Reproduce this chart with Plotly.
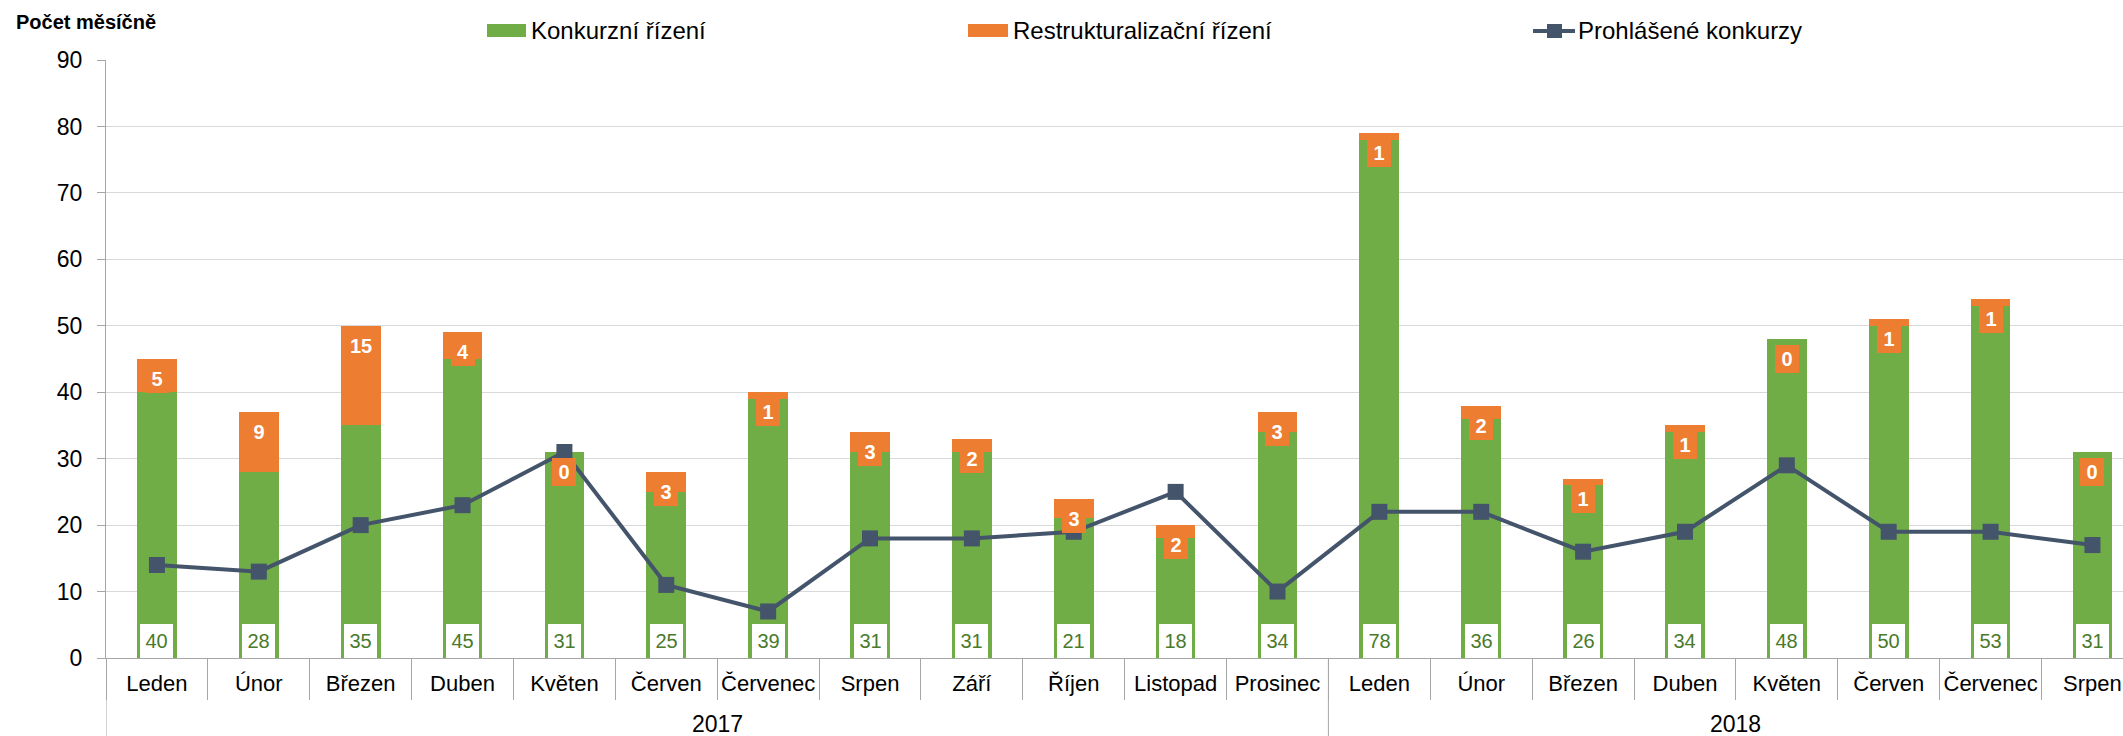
import plotly.graph_objects as go

# ---- data ----
years = ["2017"] * 12 + ["2018"] * 8
months = ["Leden", "Únor", "Březen", "Duben", "Květen", "Červen", "Červenec", "Srpen",
          "Září", "Říjen", "Listopad", "Prosinec",
          "Leden", "Únor", "Březen", "Duben", "Květen", "Červen", "Červenec", "Srpen"]
konkurzni = [40, 28, 35, 45, 31, 25, 39, 31, 31, 21, 18, 34,
             78, 36, 26, 34, 48, 50, 53, 31]
restrukturalizacni = [5, 9, 15, 4, 0, 3, 1, 3, 2, 3, 2, 3,
                      1, 2, 1, 1, 0, 1, 1, 0]
prohlasene = [14, 13, 20, 23, 31, 11, 7, 18, 18, 19, 25, 10,
              22, 22, 16, 19, 29, 19, 19, 17]

series_names = ["Konkurzní řízení", "Restrukturalizační řízení", "Prohlášené konkurzy"]
y_title = "Počet měsíčně"

GREEN = "#70ad47"
ORANGE = "#ed7d31"
LINE = "#44546a"
AXIS = "#a6a6a6"
FONT = "Liberation Sans, Arial, sans-serif"

W, H = 2123, 736
L, R, T, B = 106, 0, 60, 78
PW, PH = W - L - R, H - T - B


def fx(px):
    return (px - L) / PW


def fy(py):
    return (H - B - py) / PH


# unique category keys (month + year), displayed as month names only
xkeys = [f"{m} {y}" for m, y in zip(months, years)]

fig = go.Figure()
fig.add_trace(go.Bar(x=xkeys, y=konkurzni, name=series_names[0], marker_color=GREEN,
                     marker_line_width=0, width=0.39, showlegend=False))
fig.add_trace(go.Bar(x=xkeys, y=restrukturalizacni, name=series_names[1], marker_color=ORANGE,
                     marker_line_width=0, width=0.39, showlegend=False))
fig.add_trace(go.Scatter(x=xkeys, y=prohlasene, name=series_names[2], mode="lines+markers",
                         line=dict(color=LINE, width=4),
                         marker=dict(symbol="square", size=16, color=LINE),
                         showlegend=False))

annotations = []
shapes = []
for i, (g, o) in enumerate(zip(konkurzni, restrukturalizacni)):
    annotations.append(dict(x=i, y=0, xref="x", yref="y", text=str(g), showarrow=False,
                            xanchor="center", yanchor="bottom", width=33, height=34,
                            bgcolor="white", borderpad=0, borderwidth=0, valign="middle",
                            font=dict(family=FONT, size=20, color="#4a7a2a")))
    annotations.append(dict(x=i, y=g + o, xref="x", yref="y", text="<b>%d</b>" % o,
                            showarrow=False, xanchor="center", yanchor="top", yshift=-6,
                            width=24, height=28, bgcolor=ORANGE, borderpad=0, borderwidth=0,
                            valign="middle", font=dict(family=FONT, size=20, color="white")))

# year group labels and dividers
for yr in sorted(set(years)):
    idx = [i for i, y in enumerate(years) if y == yr]
    annotations.append(dict(x=(idx[0] + idx[-1]) / 2, y=fy(724), xref="x", yref="paper",
                            text=yr, showarrow=False, xanchor="center", yanchor="middle",
                            font=dict(family=FONT, size=23, color="black")))
    shapes.append(dict(type="line", xref="x", yref="paper", x0=idx[0] - 0.5, x1=idx[0] - 0.5,
                       y0=0, y1=fy(740), line=dict(color=AXIS, width=1)))

# y-axis title
annotations.append(dict(x=fx(14), y=fy(22), xref="paper", yref="paper", text="<b>%s</b>" % y_title,
                        showarrow=False, xanchor="left", yanchor="middle",
                        font=dict(family=FONT, size=20, color="black")))

# custom legend
leg = [(487, 526, GREEN, 529, series_names[0]), (968, 1008, ORANGE, 1011, series_names[1])]
for x0, x1, col, tx, name in leg:
    shapes.append(dict(type="rect", xref="paper", yref="paper", x0=fx(x0), x1=fx(x1),
                       y0=fy(37), y1=fy(24), fillcolor=col, line_width=0))
    annotations.append(dict(x=fx(tx), y=fy(31), xref="paper", yref="paper", text=name,
                            showarrow=False, xanchor="left", yanchor="middle",
                            font=dict(family=FONT, size=24, color="black")))
shapes.append(dict(type="line", xref="paper", yref="paper", x0=fx(1533), x1=fx(1575),
                   y0=fy(31), y1=fy(31), line=dict(color=LINE, width=4)))
shapes.append(dict(type="rect", xref="paper", yref="paper", x0=fx(1547), x1=fx(1562),
                   y0=fy(38), y1=fy(24), fillcolor=LINE, line_width=0))
annotations.append(dict(x=fx(1576), y=fy(31), xref="paper", yref="paper", text=series_names[2],
                        showarrow=False, xanchor="left", yanchor="middle",
                        font=dict(family=FONT, size=24, color="black")))

fig.update_layout(
    width=W, height=H, autosize=False,
    margin=dict(l=L, r=R, t=T, b=B, pad=0, autoexpand=False),
    barmode="stack", bargap=0.6,
    plot_bgcolor="white", paper_bgcolor="white",
    font=dict(family=FONT, size=23, color="black"),
    annotations=annotations, shapes=shapes,
    showlegend=False,
)
fig.update_xaxes(type="category", categoryorder="array", categoryarray=xkeys,
                 tickvals=xkeys, ticktext=months,
                 range=[-0.5, 19.3], automargin=False, tickangle=0,
                 showline=True, linecolor=AXIS, linewidth=1,
                 ticks="outside", tickson="boundaries", ticklen=41, tickcolor=AXIS,
                 ticklabelstandoff=6,
                 tickfont=dict(family=FONT, size=22, color="black"), showgrid=False)
fig.update_yaxes(range=[0, 90], dtick=10, automargin=False, showline=True,
                 linecolor=AXIS, linewidth=1, ticks="outside", ticklen=8,
                 tickcolor=AXIS, gridcolor="#d9d9d9", gridwidth=1,
                 zeroline=False, ticklabelstandoff=10,
                 tickfont=dict(family=FONT, size=23, color="black"))

fig.write_html("out.html", config={"displayModeBar": False},
               post_script="document.body.style.margin='0px';")
